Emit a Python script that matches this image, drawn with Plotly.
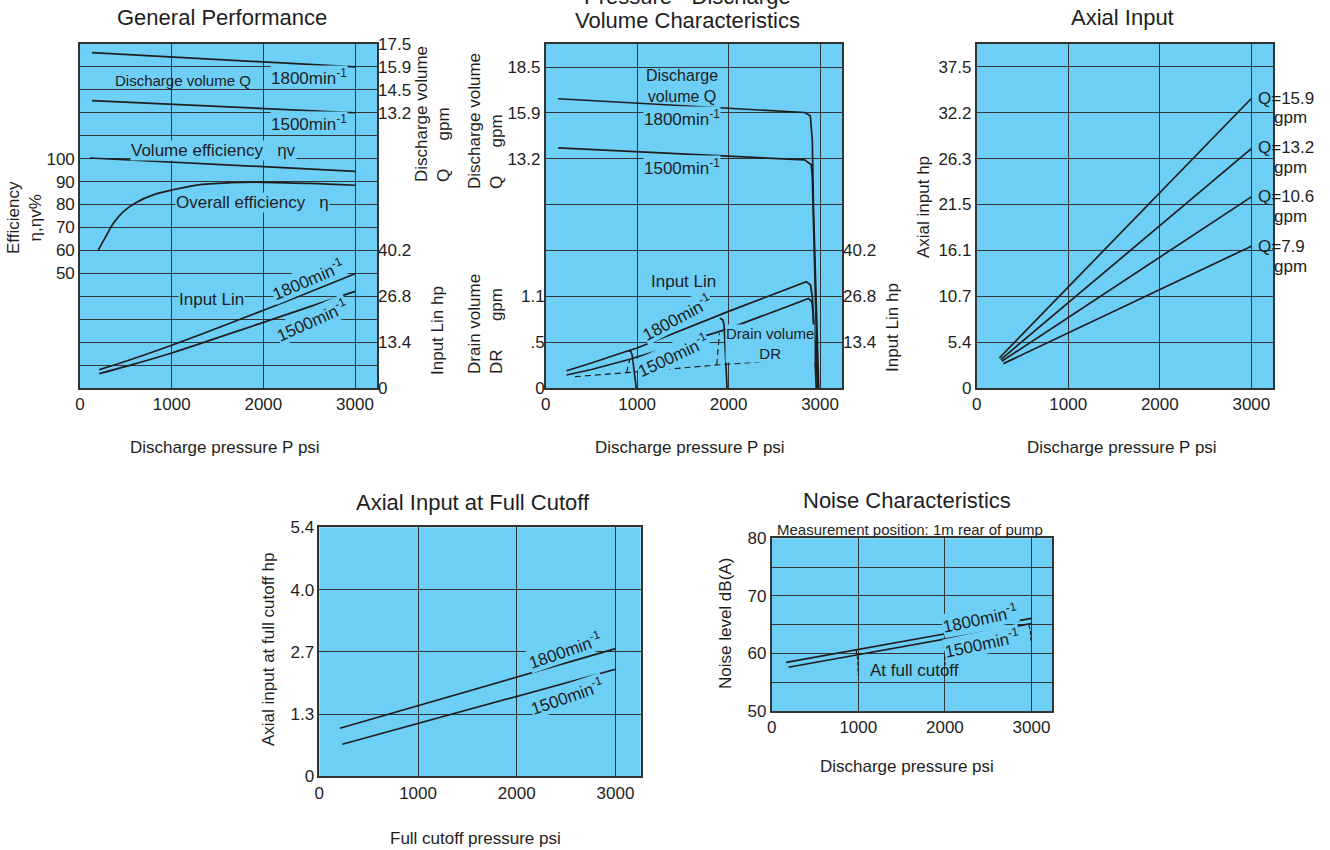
import plotly.graph_objects as go

W, H = 1330, 850
BG = '#6dcff6'
INK = '#1e1e1e'
GRID = '#333333'
FONT = 'Liberation Sans, Arial, sans-serif'
NARROW = 'Liberation Sans Narrow, Liberation Sans, sans-serif'

# ---------------- data ----------------
# General Performance (psi vs gpm / % / hp)
gp_q1800_x = [130, 3000]
gp_q1800_y = [16.67, 15.85]
gp_q1500_x = [130, 3000]
gp_q1500_y = [13.91, 13.21]
gp_etav_x = [110, 3000]
gp_etav_y = [100.3, 94.5]
gp_eta_x = [200, 291, 364, 473, 618, 800, 1000, 1273, 1636, 2000, 2500, 3000]
gp_eta_y = [60.2, 66.7, 71.8, 76.9, 81.0, 84.2, 86.3, 88.5, 89.5, 89.7, 89.2, 88.4]
gp_in1800_x = [211, 500, 1000, 2000, 3000]
gp_in1800_y = [5.36, 7.8, 12.47, 22.69, 33.4]
gp_in1500_x = [211, 500, 1000, 2000, 3000]
gp_in1500_y = [4.19, 6.3, 10.23, 19.18, 28.24]

gp_eff_ticks = [50, 60, 70, 80, 90, 100]
gp_eff_rows = [10, 20, 30, 40, 110, 120, 130, 140]
gp_flow_ticks = [13.21, 14.53, 15.85, 17.17]
gp_flow_labels = ['13.2', '14.5', '15.9', '17.5']
gp_hp_ticks = [0, 13.4, 26.8, 40.2]
gp_hp_labels = ['0', '13.4', '26.8', '40.2']

# Pressure - Discharge volume characteristics
pd_q1800_x = [137, 2831, 2893, 2915, 2929, 2985]
pd_q1800_y = [16.66, 15.87, 15.68, 14.3, 10.26, 0]
pd_q1500_x = [137, 2831, 2904, 2915, 2975]
pd_q1500_y = [13.83, 13.14, 12.86, 12.18, 0]
pd_in1800_x = [229, 500, 902, 1000, 2000, 2849, 2896, 2915, 2976]
pd_in1800_y = [5.06, 7.3, 10.9, 11.7, 22.4, 31.1, 30.1, 26.7, 0]
pd_in1500_x = [229, 500, 920, 2000, 2875, 2911, 2921, 2958]
pd_in1500_y = [3.8, 5.4, 8.4, 17.35, 26.2, 25.2, 22.8, 0]
pd_cut1000_x = [902, 931, 946, 990]
pd_cut1000_y = [10.9, 10.7, 9.6, 0]
pd_cut2000_x = [1903, 1935, 1950, 1983]
pd_cut2000_y = [20.4, 20.0, 18.6, 0]
pd_dr_x = [320, 884, 1870, 2900]
pd_dr_y = [0.13, 0.176, 0.265, 0.342]
pd_dr1000_x = [884, 920]
pd_dr1000_y = [0.176, 0.33]
pd_dr2000_x = [1870, 1900]
pd_dr2000_y = [0.265, 0.63]
pd_dr3000_x = [2900, 2930, 2958]
pd_dr3000_y = [0.342, 0.40, 0.573]

pd_q_ticks = [13.21, 15.85, 18.49]
pd_q_labels = ['13.2', '15.9', '18.5']
pd_q_rows = [2.642, 5.284, 7.926, 10.568]
pd_dr_ticks = [0, 0.5283, 1.0567]
pd_dr_labels = ['0', '.5', '1.1']
pd_hp_ticks = [13.41, 26.82, 40.23]
pd_hp_labels = ['13.4', '26.8', '40.2']

# Axial input
ai_names = ['Q=15.9', 'Q=13.2', 'Q=10.6', 'Q=7.9']
ai_x0 = [247, 262, 273, 291]
ai_y0 = [3.51, 3.32, 3.12, 2.85]
ai_x1 = [3000, 3000, 3000, 3000]
ai_y1 = [33.86, 28.0, 22.35, 16.58]
ai_ticks = [0, 5.364, 10.73, 16.09, 21.46, 26.82, 32.18, 37.55]
ai_labels = ['0', '5.4', '10.7', '16.1', '21.5', '26.3', '32.2', '37.5']

# Axial input at full cutoff
fc_1800_x = [209, 3000]
fc_1800_y = [1.034, 2.751]
fc_1500_x = [233, 3000]
fc_1500_y = [0.69, 2.306]
fc_ticks = [0, 1.341, 2.682, 4.023, 5.364]
fc_labels = ['0', '1.3', '2.7', '4.0', '5.4']

# Noise
nz_1800_x = [167, 3000]
nz_1800_y = [58.45, 66.1]
nz_1500_x = [194, 3000]
nz_1500_y = [57.6, 65.2]
nz_cut_x = [[973, 990, 1000], [1971, 1990, 2001], [2968, 2985, 2996]]
nz_cut_y = [[60.6, 59.3, 56.3], [62.6, 61.5, 58.0], [64.9, 64.0, 61.8]]
nz_ticks = [50, 60, 70, 80]
nz_rows = [55, 65, 75]

psi_ticks = [0, 1000, 2000, 3000]


def fx(px):
    return px / W


def fy(py):
    return 1 - py / H


fig = go.Figure()


def curve(x, y, xa, ya, dash='solid', width=1.7, shape='linear'):
    fig.add_trace(go.Scatter(x=x, y=y, xaxis=xa, yaxis=ya, mode='lines',
                             line=dict(color=INK, width=width, dash=dash, shape=shape),
                             showlegend=False, hoverinfo='skip'))


def label(text, px, py, size=17, angle=0, bg=None, family=FONT, align='center', xanchor='center'):
    fig.add_annotation(x=fx(px), y=fy(py), xref='paper', yref='paper', text=text,
                       showarrow=False, textangle=angle, align=align,
                       xanchor=xanchor, yanchor='middle', borderpad=0,
                       bgcolor=bg if bg else 'rgba(0,0,0,0)',
                       font=dict(family=family, size=size, color=INK))


tickfont = dict(family=FONT, size=17, color=INK)


def xax(x0, x1, anchor, rmax=3240):
    return dict(domain=[fx(x0), fx(x1)], anchor=anchor, range=[0, rmax], tickvals=psi_ticks,
                showgrid=True, gridcolor=GRID, gridwidth=1.3, showline=True, mirror=True,
                linecolor=GRID, linewidth=1.6, zeroline=False, ticks='', tickfont=tickfont,
                automargin=False)


def yax(y0, y1, anchor, rng, tv, tt=None, rows=None, grid=True, side='left', overlaying=None):
    d = dict(anchor=anchor, range=rng, tickvals=tv, side=side,
             showgrid=grid, gridcolor=GRID, gridwidth=1.3, zeroline=False, ticks='',
             tickfont=tickfont, automargin=False)
    if tt:
        d['ticktext'] = tt
    if rows:
        d['minor'] = dict(tickmode='array', tickvals=rows, showgrid=True,
                          gridcolor=GRID, gridwidth=1.3, ticks='')
    if overlaying:
        d['overlaying'] = overlaying
        d['showline'] = False
    else:
        d['domain'] = [fy(y1), fy(y0)]
        d['showline'] = True
        d['mirror'] = True
        d['linecolor'] = GRID
        d['linewidth'] = 1.6
    return d


# ---------------- General Performance ----------------
curve(gp_q1800_x, gp_q1800_y, 'x', 'y2')
curve(gp_q1500_x, gp_q1500_y, 'x', 'y2')
curve(gp_etav_x, gp_etav_y, 'x', 'y')
curve(gp_eta_x, gp_eta_y, 'x', 'y', shape='spline')
curve(gp_in1800_x, gp_in1800_y, 'x', 'y3', shape='spline')
curve(gp_in1500_x, gp_in1500_y, 'x', 'y3', shape='spline')

# ---------------- Pressure - Discharge ----------------
curve(pd_q1800_x, pd_q1800_y, 'x2', 'y4')
curve(pd_q1500_x, pd_q1500_y, 'x2', 'y4')
curve(pd_in1800_x, pd_in1800_y, 'x2', 'y6')
curve(pd_in1500_x, pd_in1500_y, 'x2', 'y6')
curve(pd_cut1000_x, pd_cut1000_y, 'x2', 'y6')
curve(pd_cut2000_x, pd_cut2000_y, 'x2', 'y6')
for dx, dy in [(pd_dr_x, pd_dr_y), (pd_dr1000_x, pd_dr1000_y),
               (pd_dr2000_x, pd_dr2000_y), (pd_dr3000_x, pd_dr3000_y)]:
    curve(dx, dy, 'x2', 'y5', dash='6px,4px', width=1.2)

# ---------------- Axial Input ----------------
for i in range(len(ai_names)):
    curve([ai_x0[i], ai_x1[i]], [ai_y0[i], ai_y1[i]], 'x3', 'y7')

# ---------------- Full cutoff ----------------
curve(fc_1800_x, fc_1800_y, 'x4', 'y8')
curve(fc_1500_x, fc_1500_y, 'x4', 'y8')

# ---------------- Noise ----------------
curve(nz_1800_x, nz_1800_y, 'x5', 'y9')
curve(nz_1500_x, nz_1500_y, 'x5', 'y9')
for cx, cy in zip(nz_cut_x, nz_cut_y):
    curve(cx, cy, 'x5', 'y9', dash='4px,2px', width=1.2, shape='spline')

TOP, BOT = 44, 388
fig.update_layout(
    width=W, height=H, margin=dict(l=0, r=0, t=0, b=0, autoexpand=False),
    paper_bgcolor='white', plot_bgcolor=BG, showlegend=False,
    font=dict(family=FONT, color=INK),
    xaxis=xax(80, 377, 'y'),
    yaxis=yax(TOP, BOT, 'x', [0, 150], gp_eff_ticks, rows=gp_eff_rows),
    yaxis2=yax(TOP, BOT, 'x', [-2.642, 17.17], gp_flow_ticks, gp_flow_labels, grid=False, side='right', overlaying='y'),
    yaxis3=yax(TOP, BOT, 'x', [0, 100.5], gp_hp_ticks, gp_hp_labels, grid=False, side='right', overlaying='y'),
    xaxis2=xax(545.7, 842, 'y4'),
    yaxis4=yax(TOP, BOT, 'x2', [0, 19.815], pd_q_ticks, pd_q_labels, rows=pd_q_rows),
    yaxis5=yax(TOP, BOT, 'x2', [0, 3.962], pd_dr_ticks, pd_dr_labels, grid=False, overlaying='y4'),
    yaxis6=yax(TOP, BOT, 'x2', [0, 100.6], pd_hp_ticks, pd_hp_labels, grid=False, side='right', overlaying='y4'),
    xaxis3=xax(976.7, 1273.3, 'y7'),
    yaxis7=yax(TOP, BOT, 'x3', [0, 40.23], ai_ticks, ai_labels),
    xaxis4=xax(319.3, 640.7, 'y8', rmax=3255),
    yaxis8=yax(527.3, 776.3, 'x4', [0, 5.364], fc_ticks, fc_labels),
    xaxis5=xax(771.7, 1052.3, 'y9'),
    yaxis9=yax(538.3, 711, 'x5', [50, 80], nz_ticks, rows=nz_rows),
)

sp = '&nbsp;' * 6
mn = 'min<sup>-1</sup>'

# titles
label('General Performance', 222, 17, size=22)
label('Pressure - Discharge', 687, -4, size=22)
label('Volume Characteristics', 687, 20, size=22)
label('Axial Input', 1122, 17, size=22)
label('Axial Input at Full Cutoff', 473, 502, size=22)
label('Noise Characteristics', 907, 501, size=22)

# axis titles
label('Efficiency<br>η,ηv%', 24, 218, angle=-90)
label('Discharge volume<br>Q' + sp + 'gpm', 432, 114, angle=-90, align='left')
label('Input Lin hp', 437, 331, angle=-90)
label('Discharge pressure P psi', 225, 447)
label('Discharge volume<br>Q' + sp + 'gpm', 486, 121, angle=-90, align='left')
label('Drain volume<br>DR' + sp + 'gpm', 486, 324, angle=-90, align='left')
label('Input Lin hp', 892, 328, angle=-90)
label('Discharge pressure P psi', 690, 447)
label('Axial input hp', 923, 207, angle=-90)
label('Discharge pressure P psi', 1122, 447)
label('Axial input at full cutoff hp', 268, 650, angle=-90)
label('Full cutoff pressure psi', 475, 838)
label('Noise level dB(A)', 725, 624, angle=-90)
label('Discharge pressure psi', 907, 766)
label('Measurement position: 1m rear of pump', 910, 529, size=15)

# in-plot labels: General Performance
label('Discharge volume Q', 183, 80, size=15, family=NARROW)
label('1800' + mn, 309, 77, bg=BG)
label('1500' + mn, 309, 123, bg=BG)
label('Volume efficiency' + '&nbsp;' * 3 + 'ηv', 213, 151, bg=BG)
label('Overall efficiency' + '&nbsp;' * 3 + 'η', 252, 202, bg=BG)
label('Input Lin', 211, 299, bg=BG)
label('1800' + mn, 308, 279, angle=-23, bg=BG)
label('1500' + mn, 312, 320, angle=-24, bg=BG)

# Pressure - Discharge
label('Discharge<br>volume Q', 682, 86, size=16, family=NARROW)
label('1800' + mn, 682, 118, bg=BG)
label('1500' + mn, 682, 167, bg=BG)
label('Input Lin', 683, 281, bg=BG)
label('1800' + mn, 677, 317, angle=-28, bg=BG)
label('1500' + mn, 673, 355, angle=-25, bg=BG)
label('Drain volume<br>DR', 770, 343, size=15, family=NARROW, bg=BG)

# Axial input Q labels
ai_label_y = [99, 148, 197, 247]
for name, ly in zip(ai_names, ai_label_y):
    label(name, 1257, ly, xanchor='left')
    label('gpm', 1273, ly + 19, xanchor='left')

# Full cutoff
label('1800' + mn, 565, 650, angle=-19, bg=BG)
label('1500' + mn, 567, 696, angle=-19, bg=BG)

# Noise
label('1800' + mn, 980, 618, angle=-12, bg=BG)
label('1500' + mn, 982, 643, angle=-12, bg=BG)
label('At full cutoff', 914, 670)

fig.write_html('out.html', config={'displayModeBar': False},
               post_script="document.body.style.margin='0';")
